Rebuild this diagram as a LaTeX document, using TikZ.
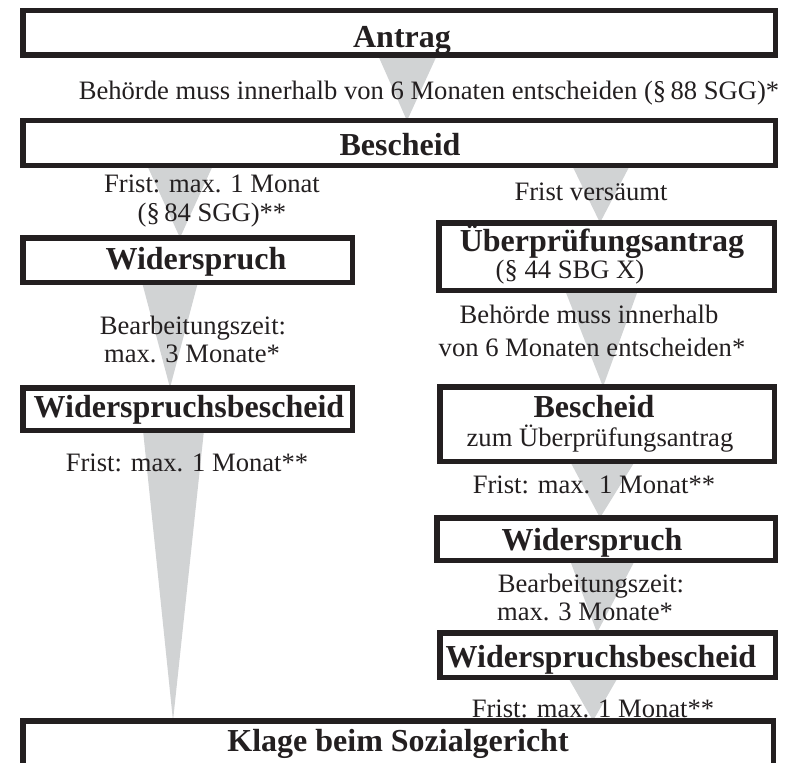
\documentclass[tikz,border=0pt]{standalone}
\usepackage{fontspec}
\setmainfont{Liberation Serif}
\pgfdeclarelayer{bg}
\pgfsetlayers{bg,main}
\definecolor{ink}{HTML}{231F20}
\definecolor{tri}{HTML}{D1D3D4}
\begin{document}
\begin{tikzpicture}[x=1pt,y=-1pt,
  box/.style={draw=ink,line width=5.5pt,inner sep=0pt,outer sep=0pt},
  reg/.style={text=ink,inner sep=0pt,anchor=base,font=\fontsize{26.6}{30}\selectfont},
  ttl/.style={text=ink,inner sep=0pt,anchor=base,font=\fontsize{32}{36}\selectfont\bfseries},
  wedge/.style={fill=tri,draw=none}]
\clip (0,0) rectangle (791,762);
% boxes
\node[box,minimum width=752.5pt,minimum height=44.5pt] (antrag) at (399,33) {};
\node[box,minimum width=752.5pt,minimum height=44.5pt] (bescheid) at (399,143) {};
\node[box,minimum width=329.5pt,minimum height=44.5pt] (wl) at (187.5,260) {};
\node[box,minimum width=329.5pt,minimum height=42.5pt] (wbl) at (187.5,409) {};
\node[box,minimum width=335.5pt,minimum height=67.5pt] (ueb) at (606.5,256.5) {};
\node[box,minimum width=334.5pt,minimum height=74.5pt] (bz) at (607,424) {};
\node[box,minimum width=338.5pt,minimum height=42.5pt] (wr) at (606,539) {};
\node[box,minimum width=335.5pt,minimum height=44.5pt] (wbr) at (607.5,655) {};
\node[box,minimum width=750.5pt,minimum height=66.5pt] (klage) at (398,754) {};
% wedges
\begin{pgfonlayer}{bg}
\fill[wedge] (378,0 |- antrag.south) -- (437,0 |- antrag.south) -- (407,0 |- bescheid.north) -- cycle;
\fill[wedge] (147,0 |- bescheid.south) -- (213,0 |- bescheid.south) -- (180,0 |- wl.north) -- cycle;
\fill[wedge] (572,0 |- bescheid.south) -- (630,0 |- bescheid.south) -- (600,0 |- ueb.north) -- cycle;
\fill[wedge] (142,0 |- wl.south) -- (198,0 |- wl.south) -- (170,0 |- wbl.north) -- cycle;
\fill[wedge] (143,0 |- wbl.south) -- (204,0 |- wbl.south) -- (173,0 |- klage.north) -- cycle;
\fill[wedge] (565,0 |- ueb.south) -- (638,0 |- ueb.south) -- (603,0 |- bz.north) -- cycle;
\fill[wedge] (570,0 |- bz.south) -- (635,0 |- bz.south) -- (600,0 |- wr.north) -- cycle;
\fill[wedge] (570,0 |- wr.south) -- (635,0 |- wr.south) -- (597,0 |- wbr.north) -- cycle;
\fill[wedge] (568,0 |- wbr.south) -- (618,0 |- wbr.south) -- (593,0 |- klage.north) -- cycle;
\end{pgfonlayer}
% texts
\node[ttl] (tAntrag) at (402,48) {Antrag};
\node[reg] (tBeh) at (429,100) {Behörde muss innerhalb von 6 Monaten entscheiden (§\,88 SGG)*};
\node[ttl] (tBescheid) at (400,156) {Bescheid};
\node[reg] (tFl1) at (212,192) {Frist: max. 1 Monat};
\node[reg] (tFl2) at (212,221) {(§\,84 SGG)**};
\node[ttl] (tWl) at (196,269) {Widerspruch};
\node[reg] (tBl1) at (193,334) {Bearbeitungszeit:};
\node[reg] (tBl2) at (192,362) {max. 3 Monate*};
\node[ttl] (tWbl) at (189,417) {Widerspruchsbescheid};
\node[reg] (tFl3) at (187,471) {Frist: max. 1 Monat**};
\node[reg] (tFv) at (591,200) {Frist versäumt};
\node[ttl] (tUeb) at (602,251) {Überprüfungsantrag};
\node[reg] (tUeb2) at (570,278) {(§ 44 SBG X)};
\node[reg] (tBr1) at (589,323) {Behörde muss innerhalb};
\node[reg] (tBr2) at (592,356) {von 6 Monaten entscheiden*};
\node[ttl] (tBz) at (594,417) {Bescheid};
\node[reg] (tBz2) at (600,446) {zum Überprüfungsantrag};
\node[reg] (tFr1) at (594,493) {Frist: max. 1 Monat**};
\node[ttl] (tWr) at (592,550) {Widerspruch};
\node[reg] (tBr3) at (591,592) {Bearbeitungszeit:};
\node[reg] (tBr4) at (585,620) {max. 3 Monate*};
\node[ttl] (tWbr) at (601,667) {Widerspruchsbescheid};
\node[reg] (tFr2) at (593,717) {Frist: max. 1 Monat**};
\node[ttl] (tKlage) at (398,751) {Klage beim Sozialgericht};
\end{tikzpicture}
\end{document}
